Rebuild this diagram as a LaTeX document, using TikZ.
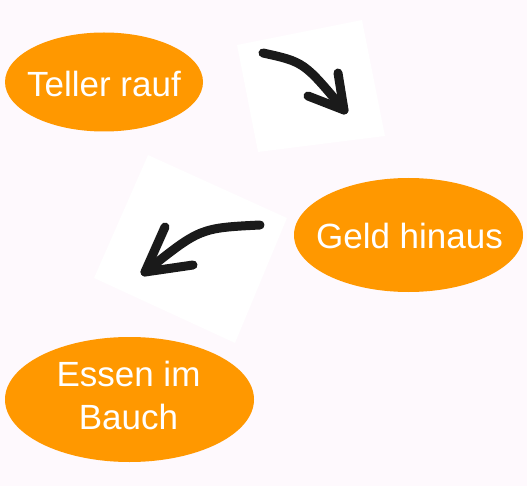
\documentclass[tikz,border=0pt]{standalone}
\usepackage{fontspec}
\setmainfont{Liberation Sans}
\usetikzlibrary{shapes.geometric}
\definecolor{bgpink}{RGB}{254,249,253}
\definecolor{blob}{RGB}{255,152,0}
\definecolor{ink}{RGB}{26,26,26}
\begin{document}
\begin{tikzpicture}[x=1pt,y=-1pt]
	\fill[bgpink] (0,0) rectangle (527,486);
	\useasboundingbox (0,0) rectangle (527,486);
	% paper behind the arrows
	\fill[white] (237,45) -- (362,20) -- (385,136) -- (258,152) -- cycle;
	\fill[white] (148,155) -- (287,218) -- (235,343) -- (94,278) -- cycle;
	\begin{scope}[every node/.style={fill=blob, ellipse, inner sep=0pt}]
		\node[minimum width=198pt, minimum height=99pt] (teller) at (104,82) {};
		\node[minimum width=229pt, minimum height=114pt] (geld) at (408.5,235) {};
		\node[minimum width=249pt, minimum height=125pt] (essen) at (129.5,399.5) {};
	\end{scope}
	\begin{scope}[every node/.style={text=white, font=\fontsize{35}{43}\selectfont, align=center, inner sep=0pt}]
		\node (tellertext) at (104,84) {Teller rauf};
		\node (geldtext) at (409.5,236) {Geld hinaus};
		\node (essentext) at (128.5,395) {Essen im\\Bauch};
	\end{scope}
	\begin{scope}[every path/.style={draw=ink, line width=9pt, line cap=round, line join=round}]
		\coordinate (obenstart) at (263,53);
		\coordinate (obenknick) at (304,62);
		\coordinate (obenspitze) at (344,110);
		\coordinate (obenhoch) at (338,73);
		\coordinate (obenlinks) at (308,96);
		\path (obenstart) .. controls (obenknick) .. (obenspitze);
		\path (obenhoch) -- (obenspitze) -- (obenlinks);
		\coordinate (mittestart) at (260,225);
		\coordinate (mitteknick) at (200,228);
		\coordinate (mittespitze) at (145,272);
		\coordinate (mittehoch) at (165,227);
		\coordinate (mitterechts) at (193,265);
		\path (mittestart) .. controls (mitteknick) .. (mittespitze);
		\path (mittehoch) -- (mittespitze) -- (mitterechts);
	\end{scope}
\end{tikzpicture}
\end{document}
